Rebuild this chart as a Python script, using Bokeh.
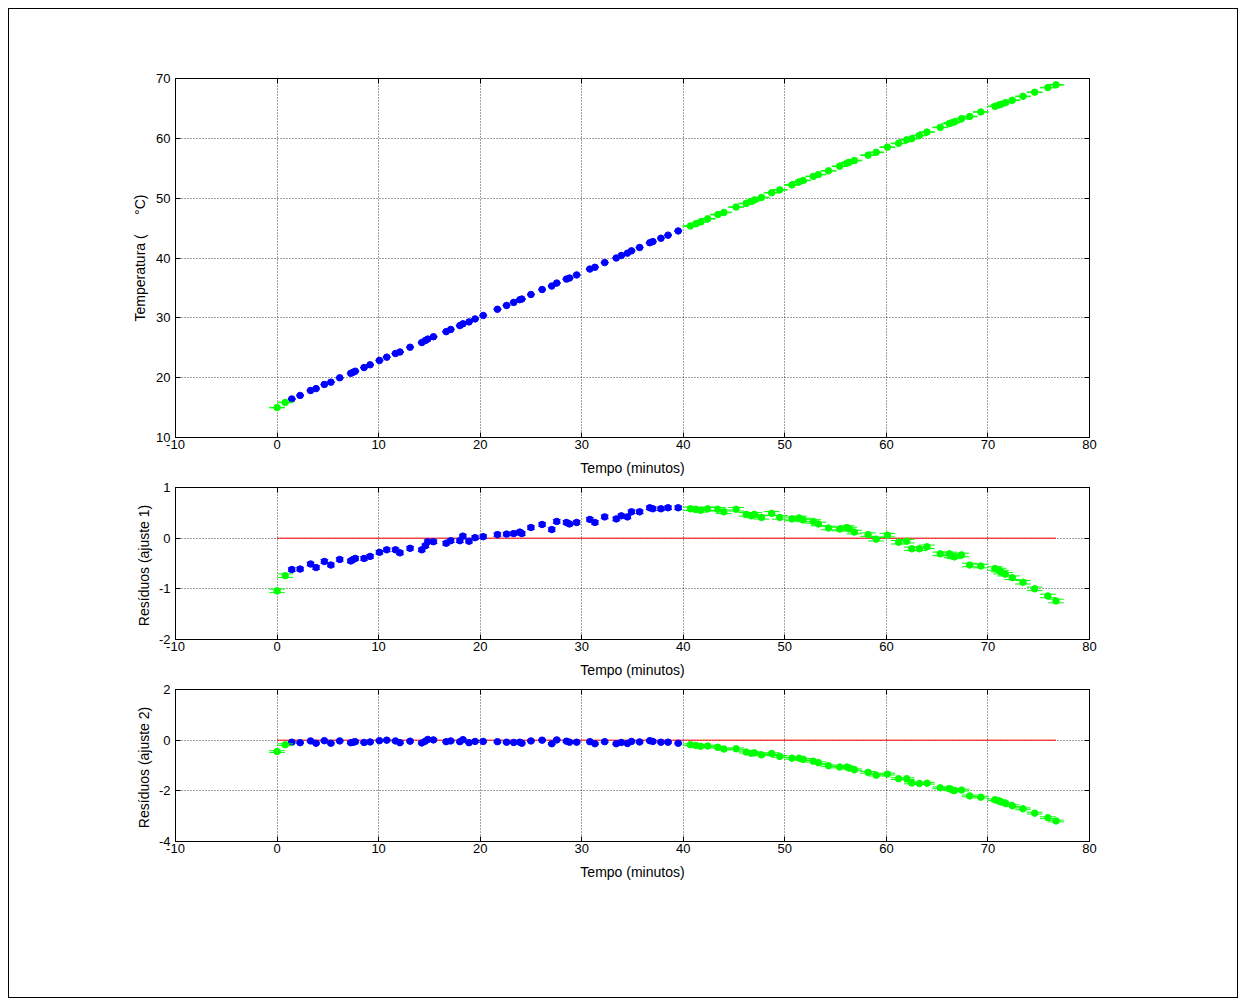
import numpy as np
from bokeh.plotting import figure
from bokeh.layouts import column
from bokeh.models import Range1d, LinearAxis, FixedTicker
from bokeh.embed import file_html
from bokeh.resources import INLINE

# ---- data ----
t_blue = [1.45, 2.27, 3.3, 3.84, 4.66, 5.3, 6.17, 7.26, 7.5, 7.7, 8.57, 9.16, 10.08, 10.8, 11.66,
          12.1, 13.1, 14.25, 14.6, 14.84, 15.4, 16.65, 17.1, 18.0, 18.3, 18.9, 19.5, 20.3, 21.7,
          22.6, 23.3, 23.9, 24.1, 25.0, 26.1, 27.05, 27.54, 28.5, 28.8, 29.5, 30.8, 31.3, 32.26,
          33.4, 33.9, 34.5, 34.9, 35.7, 36.7, 37.0, 37.8, 38.5, 39.5]
temp_blue = [16.44, 17.03, 17.86, 18.17, 18.87, 19.25, 19.98, 20.72, 20.91, 21.08, 21.69, 22.15,
             22.88, 23.43, 24.04, 24.29, 25.09, 25.87, 26.20, 26.45, 26.84, 27.69, 28.06, 28.70,
             29.00, 29.32, 29.82, 30.40, 31.43, 32.07, 32.58, 33.03, 33.14, 33.90, 34.73, 35.31,
             35.81, 36.47, 36.65, 37.17, 38.15, 38.45, 39.23, 40.00, 40.41, 40.81, 41.20, 41.76,
             42.55, 42.74, 43.30, 43.82, 44.52]
res1_blue = [-0.62, -0.61, -0.51, -0.58, -0.46, -0.53, -0.42, -0.45, -0.42, -0.40, -0.40, -0.36,
             -0.28, -0.23, -0.23, -0.29, -0.20, -0.23, -0.15, -0.07, -0.07, -0.10, -0.05, -0.05,
             0.04, -0.06, 0.01, 0.03, 0.07, 0.08, 0.09, 0.12, 0.09, 0.21, 0.27, 0.17, 0.33, 0.31,
             0.28, 0.31, 0.37, 0.31, 0.42, 0.38, 0.44, 0.42, 0.52, 0.52, 0.60, 0.58, 0.58, 0.60, 0.60]
res2_blue = [-0.08, -0.10, -0.03, -0.12, -0.02, -0.12, -0.03, -0.10, -0.08, -0.06, -0.09, -0.07,
             -0.02, 0.00, -0.03, -0.10, -0.04, -0.11, -0.04, 0.03, 0.01, -0.06, -0.03, -0.06,
             0.02, -0.10, -0.05, -0.05, -0.06, -0.08, -0.09, -0.08, -0.12, -0.03, 0.00, -0.14,
             0.01, -0.04, -0.08, -0.08, -0.06, -0.14, -0.06, -0.14, -0.09, -0.13, -0.05, -0.07,
             -0.02, -0.05, -0.08, -0.08, -0.12]

t_green = [0.0, 0.8, 40.7, 41.25, 41.7, 42.4, 43.4, 44.0, 45.2, 46.2, 46.7, 47.0, 47.7, 48.7,
           49.5, 50.7, 51.4, 51.8, 52.8, 53.3, 54.3, 55.4, 56.1, 56.35, 56.85, 58.2, 59.0, 60.1,
           61.2, 62.0, 62.5, 63.25, 64.0, 65.3, 66.2, 66.45, 66.7, 67.4, 68.2, 69.3, 70.7, 71.05,
           71.3, 71.7, 72.4, 73.45, 74.6, 75.9, 76.7]
temp_green = [15.00, 15.86, 45.35, 45.73, 46.03, 46.55, 47.25, 47.62, 48.52, 49.12, 49.45, 49.69,
              50.12, 50.91, 51.39, 52.21, 52.72, 52.97, 53.64, 53.94, 54.57, 55.33, 55.85, 56.00,
              56.29, 57.19, 57.67, 58.53, 59.16, 59.75, 59.95, 60.48, 61.05, 61.83, 62.46, 62.60,
              62.75, 63.29, 63.65, 64.41, 65.35, 65.56, 65.70, 65.94, 66.37, 67.02, 67.70, 68.48,
              68.94]
res1_green = [-1.04, -0.74, 0.58, 0.57, 0.55, 0.58, 0.57, 0.52, 0.57, 0.47, 0.44, 0.47, 0.41,
              0.49, 0.41, 0.38, 0.40, 0.36, 0.33, 0.28, 0.20, 0.18, 0.21, 0.18, 0.12, 0.07, -0.02,
              0.06, -0.08, -0.06, -0.21, -0.21, -0.17, -0.31, -0.31, -0.35, -0.37, -0.33, -0.53,
              -0.55, -0.60, -0.63, -0.67, -0.71, -0.78, -0.87, -1.00, -1.14, -1.24]
res2_green = [-0.45, -0.18, -0.18, -0.21, -0.24, -0.23, -0.28, -0.35, -0.34, -0.47, -0.52, -0.50,
              -0.58, -0.53, -0.64, -0.71, -0.71, -0.76, -0.83, -0.89, -1.01, -1.06, -1.06, -1.10,
              -1.17, -1.27, -1.38, -1.34, -1.52, -1.52, -1.69, -1.71, -1.70, -1.88, -1.91, -1.96,
              -1.99, -1.97, -2.20, -2.25, -2.35, -2.39, -2.44, -2.49, -2.59, -2.71, -2.88, -3.06,
              -3.19]

x_ticks = [-10, 0, 10, 20, 30, 40, 50, 60, 70, 80]
temp_ticks = [10, 20, 30, 40, 50, 60, 70]
res1_ticks = [-2, -1, 0, 1]
res2_ticks = [-4, -2, 0, 2]

x_label = "Tempo (minutos)"
temp_label = "Temperatura (\u00a0\u00a0\u00a0\u00a0\u00a0\u00b0C)"
res1_label = "Resíduos  (ajuste 1)"
res2_label = "Resíduos  (ajuste 2)"

BLUE = "#0000ff"
GREEN = "#00ff00"
RED = "#ff0000"
FONT = "Liberation Sans"
TICK_FS = "13px"
LABEL_FS = "14px"


def style_axis(ax, ticks, show_labels=True):
    ax.ticker = FixedTicker(ticks=ticks)
    ax.minor_tick_line_color = None
    ax.major_tick_in = 5
    ax.major_tick_out = 0
    ax.major_tick_line_color = "black"
    ax.axis_line_color = "black"
    ax.major_label_text_font = FONT
    if show_labels:
        ax.major_label_text_font_size = TICK_FS
        ax.major_label_text_color = "black"
        ax.major_label_overrides = {t: ("-%d" % -t if t < 0 else "%d" % t) for t in ticks}
    else:
        ax.major_label_text_font_size = "0px"
        ax.major_label_text_color = None
        ax.major_label_standoff = 0


def errorbars(p, x, y, err, cap, color):
    x = np.asarray(x, dtype=float)
    y = np.asarray(y, dtype=float)
    p.segment(x, y - err, x, y + err, line_color=color, line_width=1)
    p.segment(x - cap, y - err, x + cap, y - err, line_color=color, line_width=1)
    p.segment(x - cap, y + err, x + cap, y + err, line_color=color, line_width=1)
    p.scatter(x, y, size=6.5, fill_color=color, line_color=color)


def panel(height, btop, bbot, yr, yticks, ylabel, yb, yg, err, zero_line, ylab_standoff):
    p = figure(width=1228, height=height, output_backend="svg", toolbar_location=None,
               x_range=Range1d(-10, 80), y_range=Range1d(*yr),
               min_border_left=166, min_border_right=148,
               min_border_top=btop, min_border_bottom=bbot,
               background_fill_color="white", border_fill_color="white")
    p.outline_line_color = "black"
    p.outline_line_width = 1
    style_axis(p.xaxis[0], x_ticks)
    style_axis(p.yaxis[0], yticks)
    p.xaxis[0].major_label_standoff = 2
    p.xaxis[0].axis_label = x_label
    p.xaxis[0].axis_label_standoff = 8
    p.yaxis[0].major_label_standoff = 5
    p.yaxis[0].axis_label = ylabel
    p.yaxis[0].axis_label_standoff = ylab_standoff
    for ax in (p.xaxis[0], p.yaxis[0]):
        ax.axis_label_text_font = FONT
        ax.axis_label_text_font_size = LABEL_FS
        ax.axis_label_text_font_style = "normal"
        ax.axis_label_text_color = "black"
    top = LinearAxis()
    style_axis(top, x_ticks, show_labels=False)
    p.add_layout(top, "above")
    right = LinearAxis()
    style_axis(right, yticks, show_labels=False)
    p.add_layout(right, "right")
    p.xgrid[0].ticker = FixedTicker(ticks=x_ticks)
    p.ygrid[0].ticker = FixedTicker(ticks=yticks)
    for g in (p.xgrid[0], p.ygrid[0]):
        g.grid_line_color = "black"
        g.grid_line_alpha = 0.75
        g.grid_line_dash = "1 2"
        g.grid_line_width = 1
    if zero_line:
        t_all = t_blue + t_green
        p.line([min(t_all), max(t_all)], [0, 0], line_color=RED, line_width=1)
    errorbars(p, t_blue, yb, err, 0.385, BLUE)
    errorbars(p, t_green, yg, err, 0.77, GREEN)
    return p


p1 = panel(470, 69, 42, (10, 70), temp_ticks, temp_label, temp_blue, temp_green, 0.05, False, 5)
p2 = panel(202, 8, 42, (-2, 1), res1_ticks, res1_label, res1_blue, res1_green, 0.035, True, 4)
p3 = panel(316, 8, 156, (-4, 2), res2_ticks, res2_label, res2_blue, res2_green, 0.035, True, 4)

layout = column(p1, p2, p3, spacing=0,
                styles={"border": "1px solid black", "background": "white",
                        "margin-left": "8px", "margin-top": "8px"})

open("out.html", "w").write(file_html(layout, INLINE))
